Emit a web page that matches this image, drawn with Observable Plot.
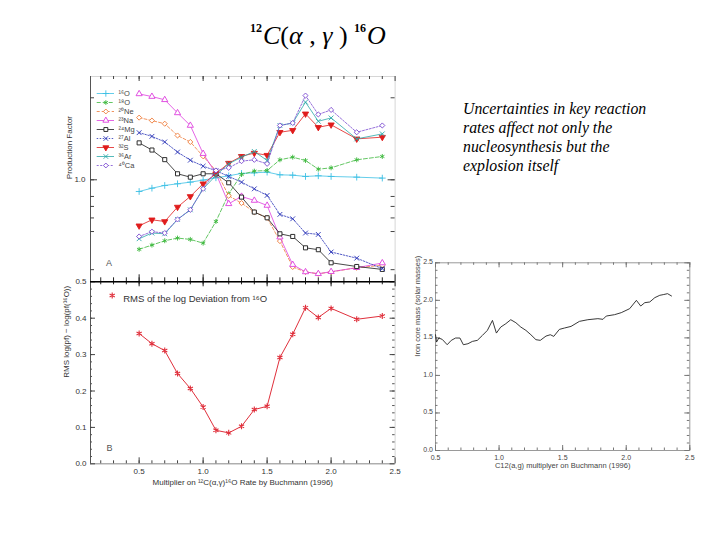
<!DOCTYPE html>
<html>
<head>
<meta charset="utf-8">
<script src="https://cdn.jsdelivr.net/npm/d3@7"></script>
<script src="https://cdn.jsdelivr.net/npm/@observablehq/plot@0.6"></script>
<style>
html,body{margin:0;padding:0;background:#fff;}
#page{position:relative;width:720px;height:540px;overflow:hidden;background:#fff;font-family:"Liberation Sans",Arial,sans-serif;}
.abs{position:absolute;}
#title{left:250px;top:21px;font-family:"Liberation Serif","Times New Roman",serif;font-size:26px;line-height:30px;color:#000;white-space:nowrap;}
#title .sup{font-size:12px;font-weight:bold;position:relative;top:-12px;font-style:normal;margin-right:1px;}
#note{left:463px;top:99px;width:250px;font-family:"Liberation Serif","Times New Roman",serif;font-style:italic;font-size:15.8px;line-height:19px;color:#000;}
</style>
</head>
<body>
<div id="page">
  <div id="title" class="abs"><span class="sup">12</span><i>C</i>(<i>α</i> , <i>γ</i> ) <span class="sup">16</span><i>O</i></div>
  <div id="note" class="abs">Uncertainties in key reaction<br>rates affect not only the<br>nucleosynthesis but the<br>explosion itself</div>
</div>
<script>
// ---------------- data ----------------
const multipliers = [0.5,0.6,0.7,0.8,0.9,1.0,1.1,1.2,1.3,1.4,1.5,1.6,1.7,1.8,1.9,2.0,2.2,2.4];

const speciesNames = ["¹⁶O","¹⁸O","²⁰Ne","²³Na","²⁴Mg","²⁷Al","³²S","³⁶Ar","⁴⁰Ca"];
const pf_O16  = [0.855,0.894,0.927,0.948,0.969,0.996,1.027,1.055,1.089,1.098,1.108,1.069,1.064,1.046,1.055,1.046,1.036,1.023];
const pf_O18  = [0.394,0.417,0.442,0.458,0.450,0.428,0.572,0.829,1.074,1.123,1.133,1.307,1.354,1.295,1.153,1.174,1.307,1.367];
const pf_Ne20 = [2.30,2.21,2.12,1.81,1.66,1.37,1.13,0.807,0.732,0.649,0.601,0.440,0.311,0.291,0.284,0.291,0.308,0.318];
const pf_Na23 = [3.16,3.05,2.92,2.45,2.07,1.42,1.09,0.725,0.800,0.758,0.709,0.464,0.321,0.291,0.284,0.292,0.308,0.328];
const pf_Mg24 = [1.64,1.49,1.31,1.084,1.036,1.084,1.084,0.961,0.793,0.649,0.601,0.485,0.468,0.402,0.392,0.329,0.313,0.301];
const pf_Al27 = [1.88,1.79,1.66,1.45,1.30,1.20,1.13,1.046,0.969,0.886,0.811,0.629,0.593,0.490,0.481,0.380,0.350,0.304];
const pf_S32  = [0.540,0.585,0.572,0.694,0.800,0.948,1.084,1.25,1.37,1.43,1.39,1.89,1.94,2.42,2.02,2.09,1.73,1.77];
const pf_Ar36 = [0.454,0.490,0.485,0.588,0.669,0.886,1.060,1.239,1.354,1.461,1.295,2.07,2.14,2.83,2.19,2.29,1.73,1.85];
const pf_Ca40 = [0.468,0.499,0.490,0.588,0.669,0.886,1.133,1.174,1.284,1.307,1.239,2.07,2.14,3.09,2.40,2.55,1.89,2.07];

const rmsLogDeviation = [0.358,0.330,0.311,0.248,0.207,0.156,0.092,0.085,0.103,0.149,0.158,0.292,0.356,0.429,0.402,0.427,0.397,0.406];

const ironMultiplier = [0.50,0.508,0.526,0.553,0.592,0.624,0.658,0.692,0.719,0.755,0.790,0.829,0.869,0.908,0.948,0.979,1.013,1.053,1.092,1.132,1.171,1.211,1.25,1.29,1.324,1.369,1.403,1.43,1.474,1.514,1.566,1.632,1.698,1.777,1.817,1.843,1.908,1.961,2.027,2.08,2.114,2.146,2.185,2.225,2.264,2.291,2.325,2.356];
const ironCoreMass   = [1.542,1.444,1.498,1.48,1.409,1.467,1.498,1.498,1.409,1.422,1.453,1.467,1.533,1.60,1.733,1.564,1.644,1.689,1.742,1.702,1.644,1.60,1.542,1.476,1.467,1.524,1.542,1.52,1.613,1.631,1.653,1.72,1.742,1.756,1.747,1.791,1.809,1.836,1.889,2.0,1.924,1.969,1.978,2.036,2.067,2.076,2.089,2.058];

// tick labels
const xTickLabelsLeft = [0.5,1.0,1.5,2.0,2.5];
const yTickLabelsA = [1.0];
const yTicksA = [0.3,0.5,0.6,0.7,0.8,1.0,3.0];
const yTickLabelsB = [0.0,0.1,0.2,0.3,0.4,0.5];
const xTickLabelsRight = [0.5,1.0,1.5,2.0,2.5];
const yTickLabelsRight = [0.0,0.5,1.0,1.5,2.0,2.5];

// ---------------- styles (not data) ----------------
const seriesValues = [pf_O16,pf_O18,pf_Ne20,pf_Na23,pf_Mg24,pf_Al27,pf_S32,pf_Ar36,pf_Ca40];
const seriesStyle = [
  {color:"#3cc0e4", symbol:"plus",     open:false, dash:null},
  {color:"#3cb83c", symbol:"asterisk", open:false, dash:"4,2"},
  {color:"#ee7a38", symbol:"diamond2", open:true,  dash:"3,2"},
  {color:"#de3ede", symbol:"triangle", open:true,  dash:null},
  {color:"#1a1a1a", symbol:"square",   open:true,  dash:null},
  {color:"#2a34b8", symbol:"times",    open:false, dash:"1.5,1.5"},
  {color:"#e01c1c", symbol:"triangle", open:false, dash:null, rotate:180},
  {color:"#2aa8a8", symbol:"times",    open:false, dash:null},
  {color:"#7a4ad0", symbol:"diamond2", open:true,  dash:"2,1.5"}
];
const FONT = "Liberation Sans, Arial, sans-serif";
const page = document.getElementById("page");
function mount(el, left, top){
  const d = document.createElement("div");
  d.style.cssText = `position:absolute;left:${left}px;top:${top}px;`;
  d.appendChild(el); page.appendChild(d);
}
const baseStyle = {background:"transparent", overflow:"visible", fontFamily:FONT, color:"#333"};
const markFill = st => st.open ? "white" : (st.symbol === "triangle" ? st.color : "none");

const xDomainLeft = [0.12, 2.5];
const xMinorLeft = d3.range(2, 25).map(v => v/10);

// ---------------- Panel A ----------------
{
  const W=420, H=230, ML=90, MR=25.4, MT=16, MB=8.7;
  const fw = W-ML-MR, fh = H-MT-MB;
  const marks = [
    Plot.frame({stroke:"#d6d6d6"}),
    Plot.ruleX([xDomainLeft[0]], {stroke:"#555"}),
    Plot.tickX(xMinorLeft, {x:d=>d, insetBottom:fh-3, stroke:"#444"}),
    Plot.tickX(xTickLabelsLeft, {x:d=>d, insetBottom:fh-5, stroke:"#444"}),
    Plot.tickX(xMinorLeft, {x:d=>d, insetTop:fh-4, stroke:"#222"}),
    Plot.tickX(xTickLabelsLeft, {x:d=>d, insetTop:fh-7, stroke:"#222"}),
    Plot.tickY(yTicksA, {y:d=>d, insetRight:fw-4, stroke:"#444"}),
    Plot.tickY(yTicksA, {y:d=>d, insetLeft:fw-4, stroke:"#444"}),
    Plot.tickY(yTickLabelsA, {y:d=>d, insetRight:fw-7, stroke:"#444"}),
    Plot.tickY(yTickLabelsA, {y:d=>d, insetLeft:fw-7, stroke:"#444"}),
    Plot.text(yTickLabelsA, {y:d=>d, text:d=>d.toFixed(1), frameAnchor:"left", dx:-5, textAnchor:"end", fontSize:8, fill:"#333"})
  ];
  seriesValues.forEach((vals, k) => {
    const st = seriesStyle[k];
    const data = multipliers.map((m,i) => ({x:m, y:vals[i]}));
    marks.push(Plot.line(data, {x:"x", y:"y", stroke:st.color, strokeWidth:0.8, strokeDasharray:st.dash || undefined}));
    marks.push(Plot.dot(data, {x:"x", y:"y", symbol:st.symbol, r:2.3, stroke:st.color, strokeWidth:0.9,
      fill: markFill(st), rotate: st.rotate || 0}));
  });
  marks.push(Plot.text(["A"], {text:d=>d, frameAnchor:"bottom-left", dx:15.5, dy:-16, fontSize:9, fill:"#555"}));
  marks.push(Plot.text(["Production Factor"], {text:d=>d, frameAnchor:"left", rotate:-90, dx:-21, fontSize:8, fill:"#333"}));
  const svg = Plot.plot({width:W, height:H, marginLeft:ML, marginRight:MR, marginTop:MT, marginBottom:MB,
    style:baseStyle, x:{domain:xDomainLeft, axis:null}, y:{type:"log", domain:[0.255, 3.99], axis:null}, marks});
  mount(svg, 0, 60);
}

// ---------------- Legend of panel A ----------------
{
  const rows = speciesNames.map((name,k) => ({name, a:0, b:1, m:0.5, t:1, k}));
  const marks = [];
  rows.forEach(r => {
    const st = seriesStyle[r.k];
    marks.push(Plot.ruleY([r], {y:"name", x1:"a", x2:"b", stroke:st.color, strokeWidth:0.8, strokeDasharray:st.dash || undefined}));
    marks.push(Plot.dot([r], {x:"m", y:"name", symbol:st.symbol, r:2.2, stroke:st.color, strokeWidth:0.9,
      fill: markFill(st), rotate: st.rotate || 0}));
  });
  marks.push(Plot.text(rows, {x:"t", y:"name", text:"name", dx:4, textAnchor:"start", fontSize:7.5, fill:"#444"}));
  const svg = Plot.plot({width:65, height:104, margin:0, style:baseStyle,
    x:{domain:[0,1], range:[4.7,22], axis:null},
    y:{type:"point", domain:speciesNames, range:[6.3,95.9], axis:null}, marks});
  mount(svg, 92, 78);
}

// ---------------- Panel B ----------------
{
  const W=420, H=220, ML=90, MR=25.4, MT=5.3, MB=32.7;
  const fw = W-ML-MR, fh = H-MT-MB;
  const yMinor = d3.range(1, 25).map(v => v/50);
  const red = "#e0303c";
  const data = multipliers.map((m,i) => ({x:m, y:rmsLogDeviation[i]}));
  const marks = [
    Plot.frame({stroke:"#d6d6d6"}),
    Plot.ruleX([xDomainLeft[0]], {stroke:"#555"}),
    Plot.ruleY([0], {stroke:"#999"}),
    Plot.tickX(xMinorLeft, {x:d=>d, insetTop:fh-3, stroke:"#444"}),
    Plot.tickX(xTickLabelsLeft, {x:d=>d, insetTop:fh-6, stroke:"#444"}),
    Plot.tickX(xMinorLeft, {x:d=>d, insetBottom:fh-3, stroke:"#222"}),
    Plot.tickX(xTickLabelsLeft, {x:d=>d, insetBottom:fh-5, stroke:"#222"}),
    Plot.tickY(yMinor, {y:d=>d, insetRight:fw-2, stroke:"#555"}),
    Plot.tickY(yMinor, {y:d=>d, insetLeft:fw-2.5, stroke:"#555"}),
    Plot.tickY(yTickLabelsB, {y:d=>d, insetRight:fw-5, stroke:"#444"}),
    Plot.tickY(yTickLabelsB, {y:d=>d, insetLeft:fw-5, stroke:"#444"}),
    Plot.ruleY([0.5], {stroke:"#000", strokeWidth:1.6}),
    Plot.line(data, {x:"x", y:"y", stroke:red, strokeWidth:1}),
    Plot.dot(data, {x:"x", y:"y", symbol:"asterisk", r:2.8, stroke:red, strokeWidth:1.1}),
    Plot.text(yTickLabelsB, {y:d=>d, text:d=>d.toFixed(1), frameAnchor:"left", dx:-4, textAnchor:"end", fontSize:8, fill:"#333"}),
    Plot.text(xTickLabelsLeft, {x:d=>d, text:d=>d.toFixed(1), frameAnchor:"bottom", dy:10.5, fontSize:8, fill:"#333"}),
    Plot.text(["Multiplier on ¹²C(α,γ)¹⁶O Rate by Buchmann (1996)"], {text:d=>d, frameAnchor:"bottom", dy:21, fontSize:8, fill:"#333"}),
    Plot.text(["RMS log(pf) − log(pf(¹⁶O))"], {text:d=>d, frameAnchor:"left", rotate:-90, dx:-24, dy:5, fontSize:8, fill:"#333"}),
    Plot.dot([0], {frameAnchor:"top-left", dx:21.7, dy:13.7, symbol:"asterisk", r:2.8, stroke:red, strokeWidth:1.1}),
    Plot.text(["RMS of the log Deviation from ¹⁶O"], {text:d=>d, frameAnchor:"top-left", dx:32.7, dy:13.7, textAnchor:"start", fontSize:9.5, fill:"#333"}),
    Plot.text(["B"], {text:d=>d, frameAnchor:"bottom-left", dx:16, dy:-13, fontSize:9, fill:"#555"})
  ];
  const svg = Plot.plot({width:W, height:H, marginLeft:ML, marginRight:MR, marginTop:MT, marginBottom:MB,
    style:baseStyle, x:{domain:xDomainLeft, axis:null}, y:{domain:[0,0.5], axis:null}, marks});
  mount(svg, 0, 276);
}

// ---------------- Right chart: iron core mass ----------------
{
  const W=300, H=230, ML=25, MR=20.7, MT=12.3, MB=30;
  const fw = W-ML-MR, fh = H-MT-MB;
  const xMinor = d3.range(5, 26).map(v => v/10);
  const yMinor = d3.range(0, 26).map(v => v/10);
  const data = ironMultiplier.map((m,i) => ({x:m, y:ironCoreMass[i]}));
  const tk = "#777";
  const marks = [
    Plot.frame({stroke:"#9a9a9a"}),
    Plot.tickX(xMinor, {x:d=>d, insetTop:fh-2.5, stroke:tk}),
    Plot.tickX(xMinor, {x:d=>d, insetBottom:fh-2.5, stroke:tk}),
    Plot.tickX(xTickLabelsRight, {x:d=>d, insetTop:fh-5, stroke:tk}),
    Plot.tickX(xTickLabelsRight, {x:d=>d, insetBottom:fh-5, stroke:tk}),
    Plot.tickY(yMinor, {y:d=>d, insetRight:fw-2.5, stroke:tk}),
    Plot.tickY(yMinor, {y:d=>d, insetLeft:fw-2.5, stroke:tk}),
    Plot.tickY(yTickLabelsRight, {y:d=>d, insetRight:fw-5, stroke:tk}),
    Plot.tickY(yTickLabelsRight, {y:d=>d, insetLeft:fw-5, stroke:tk}),
    Plot.line(data, {x:"x", y:"y", stroke:"#222", strokeWidth:0.9}),
    Plot.text(yTickLabelsRight, {y:d=>d, text:d=>d.toFixed(1), frameAnchor:"left", dx:-2.5, dy:-1, textAnchor:"end", fontSize:7, fill:"#444"}),
    Plot.text(xTickLabelsRight, {x:d=>d, text:d=>d.toFixed(1), frameAnchor:"bottom", dy:9, fontSize:7, fill:"#444"}),
    Plot.text(["C12(a,g) multiplyer on Buchmann (1996)"], {text:d=>d, frameAnchor:"bottom", dy:17.5, fontSize:7.5, fill:"#444"}),
    Plot.text(["Iron core mass (solar masses)"], {text:d=>d, frameAnchor:"left", rotate:-90, dx:-18, fontSize:7.5, fill:"#444"})
  ];
  const svg = Plot.plot({width:W, height:H, marginLeft:ML, marginRight:MR, marginTop:MT, marginBottom:MB,
    style:baseStyle, x:{domain:[0.5,2.5], axis:null}, y:{domain:[0,2.5], axis:null}, marks});
  mount(svg, 410, 250);
}
</script>
</body>
</html>
